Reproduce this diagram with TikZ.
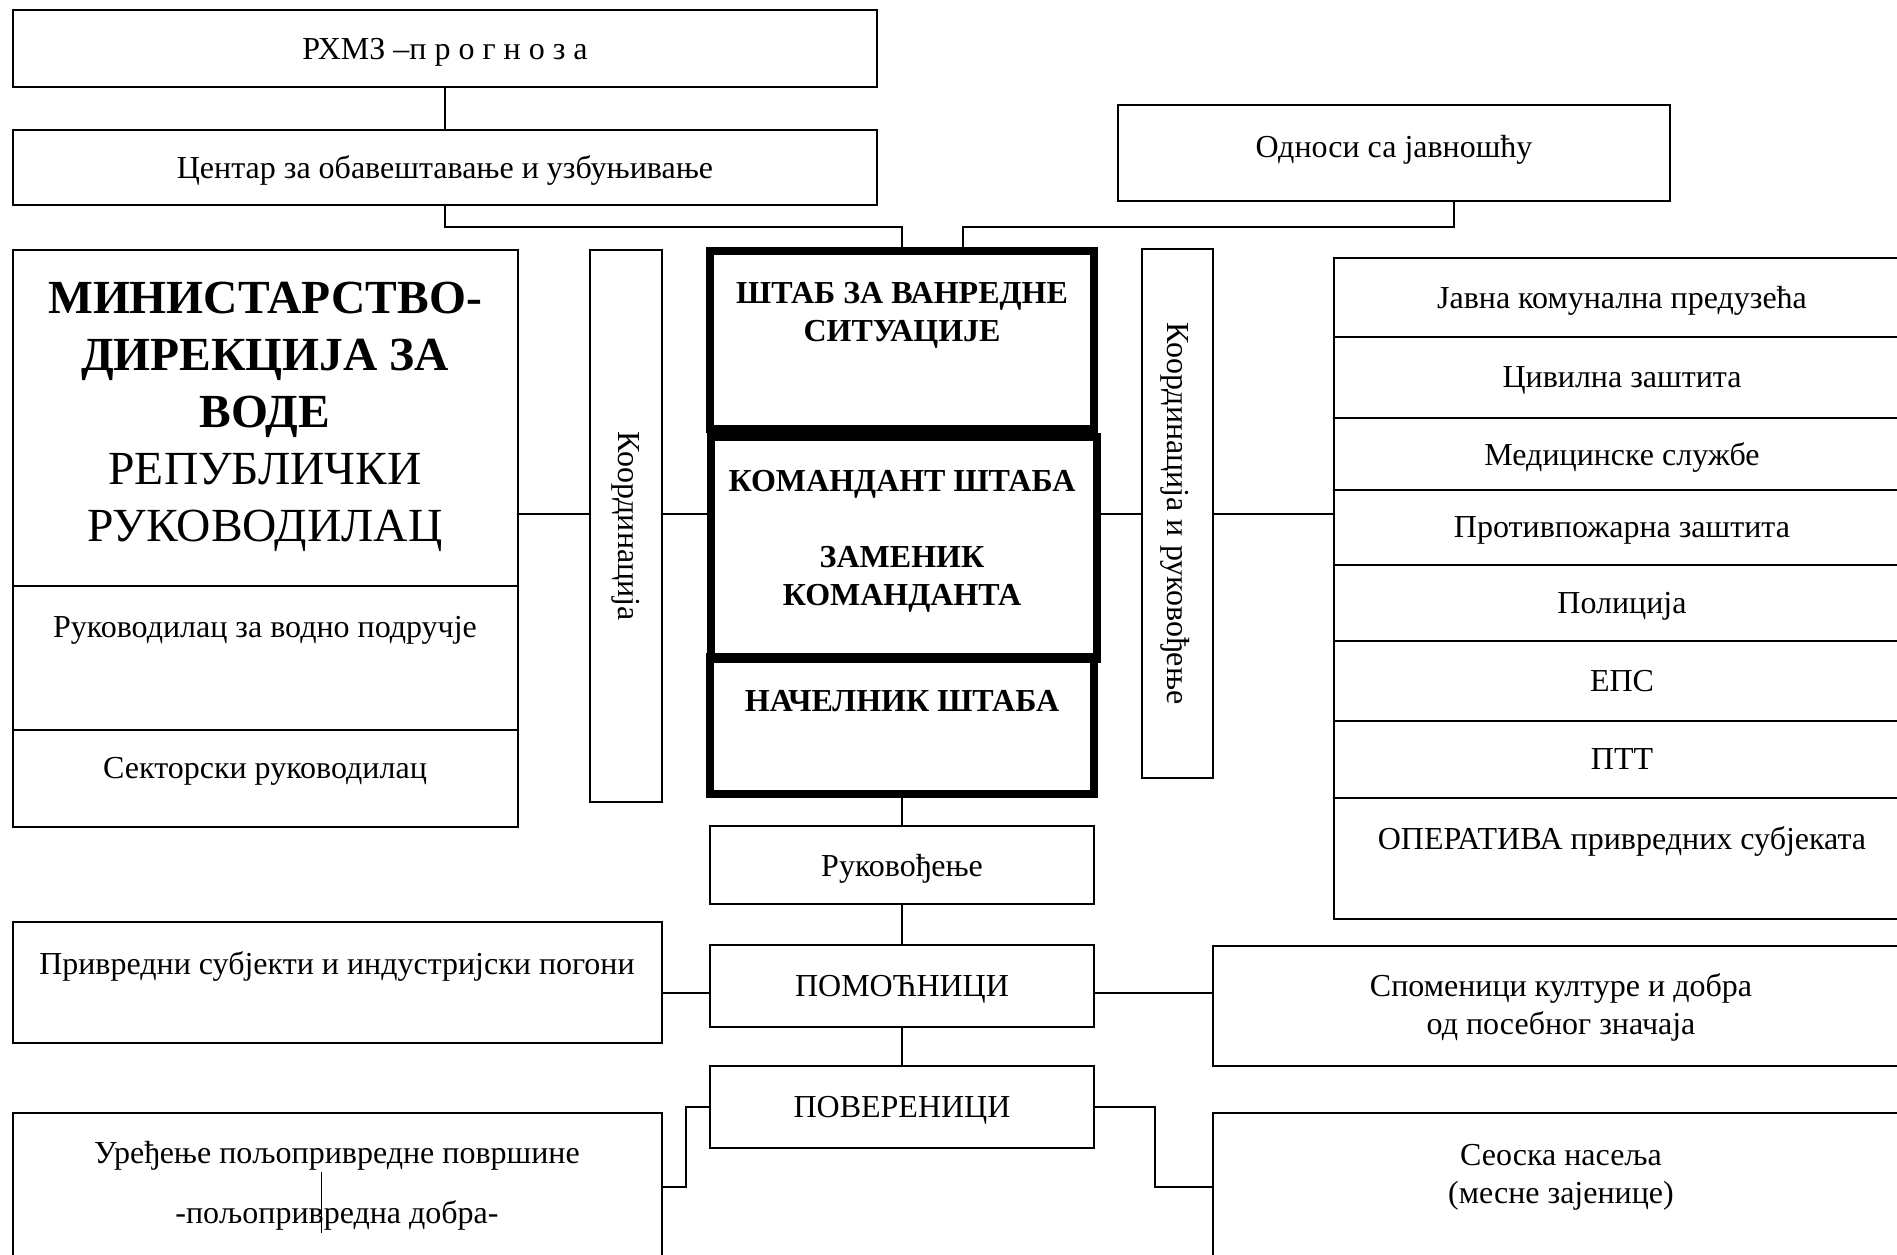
\documentclass[tikz,border=0pt]{standalone}
\usepackage{fontspec}
\setmainfont{Liberation Serif}

\begin{document}
\begin{tikzpicture}[x=0.4pt, y=-0.4pt,
  box/.style={draw, line width=0.7pt, rectangle, anchor=north west, inner sep=0pt, outer sep=0pt,
    align=center, text depth=0pt, font=\fontsize{12.8}{15.2}\selectfont},
  heavy/.style={box, line width=3pt, font=\fontsize{12.8}{15.2}\selectfont\bfseries},
  wh/.style 2 args={minimum width=#1*0.4pt, minimum height=#2*0.4pt},
  lbl/.style={inner sep=0pt, align=center, font=\fontsize{12.8}{15.2}\selectfont},
  wire/.style={line width=0.7pt}]

\useasboundingbox (0,0) rectangle (1897,1254);

% TOP
\node[box, wh={864}{77}] (rhmz) at (13,10) {РХМЗ –п р о г н о з а};
\node[box, wh={864}{75}] (centar) at (13,130) {Центар за обавештавање и узбуњивање};
\node[box, wh={552}{96}] (odnosi) at (1118,105) {};
\node[lbl] (odnosi-t) at (1394,150) {Односи са јавношћу};

% MINISTRY
\node[box, wh={505}{336}] (minT) at (13,250) {};
\node[lbl, font=\fontsize{19}{22.8}\selectfont] (minT-t) at (265,417)
  {\textbf{МИНИСТАРСТВО-}\\\textbf{ДИРЕКЦИЈА ЗА}\\\textbf{ВОДЕ}\\РЕПУБЛИЧКИ\\РУКОВОДИЛАЦ};
\node[box, wh={505}{144}] (minV) at (13,586) {};
\node[lbl] (minV-t) at (265,630) {Руководилац за водно подручје};
\node[box, wh={505}{97}] (minS) at (13,730) {};
\node[lbl] (minS-t) at (265,771) {Секторски руководилац};

% COORDINATION
\node[box, wh={72}{552}] (koord) at (590,250) {};
\node[lbl, rotate=-90] (koord-t) at (koord.center) {Координација};
\node[box, wh={71}{529}] (kir) at (1142,249) {};
\node[lbl, rotate=-90] (kir-t) at ([xshift=-1pt]kir.center) {Координација и руковођење};

% HEADQUARTERS
\node[heavy, wh={384}{178}] (shtab) at (710,251) {};
\node[lbl, font=\fontsize{12.8}{15.2}\selectfont\bfseries] (shtab-t) at (902,315) {ШТАБ ЗА ВАНРЕДНЕ\\СИТУАЦИЈЕ};
\node[heavy, wh={386}{222}] (komandant) at (711,437) {};
\node[lbl, font=\fontsize{12.8}{15.2}\selectfont\bfseries] (komandant-t) at (902,541)
  {КОМАНДАНТ ШТАБА\\[15.2pt]ЗАМЕНИК\\КОМАНДАНТА};
\node[heavy, wh={384}{137}] (nacelnik) at (710,657) {};
\node[lbl, font=\fontsize{12.8}{15.2}\selectfont\bfseries] (nacelnik-t) at (902,701) {НАЧЕЛНИК ШТАБА};

% SERVICES
\node[box, wh={576}{79}] (r1) at (1334,258) {Јавна комунална предузећа};
\node[box, wh={576}{81}] (r2) at (1334,337) {Цивилна заштита};
\node[box, wh={576}{72}] (r3) at (1334,418) {Медицинске службе};
\node[box, wh={576}{75}] (r4) at (1334,490) {Противпожарна заштита};
\node[box, wh={576}{76}] (r5) at (1334,565) {Полиција};
\node[box, wh={576}{80}] (r6) at (1334,641) {ЕПС};
\node[box, wh={576}{77}] (r7) at (1334,721) {ПТТ};
\node[box, wh={576}{121}] (r8) at (1334,798) {};
\node[lbl] (r8-t) at (1622,841) {ОПЕРАТИВА привредних субјеката};

% COMMAND LINE
\node[box, wh={384}{78}] (ruk) at (710,826) {Руковођење};
\node[box, wh={384}{82}] (pom) at (710,945) {ПОМОЋНИЦИ};
\node[box, wh={384}{82}] (pov) at (710,1066) {ПОВЕРЕНИЦИ};

% BOTTOM
\node[box, wh={649}{121}] (priv) at (13,922) {};
\node[lbl] (priv-t) at (337,966) {Привредни субјекти и индустријски погони};
\node[box, wh={697}{120}] (spom) at (1213,946) {};
\node[lbl] (spom-t) at (1561,1007) {Споменици културе и добра\\од посебног значаја};
\node[box, wh={649}{160}] (ured) at (13,1113) {};
\node[lbl] (ured-t) at (337,1186) {Уређење пољопривредне површине\\[8.8pt]-пољопривредна добра-};
\node[box, wh={697}{160}] (seoska) at (1213,1113) {};
\node[lbl] (seoska-t) at (1561,1177) {Сеоска насеља\\(месне зајенице)};

% LINKS
\coordinate (jl) at (902,227);
\coordinate (odn-in) at (1454,227);
\coordinate (sht-in) at (963,227);
\coordinate (hline) at (0,514);
\coordinate (pline) at (0,993);
\coordinate (pvl) at (686,1187);
\coordinate (pvr) at (1155,1187);

\draw[wire] (rhmz.south) -- (centar.north);
\draw[wire] (centar.south) |- (jl) -- (shtab.north);
\draw[wire] (odn-in |- odnosi.south) -- (odn-in) -- (sht-in) -- (sht-in |- shtab.north);
\draw[wire] (minT.east |- hline) -- (koord.west |- hline);
\draw[wire] (koord.east |- hline) -- (komandant.west |- hline);
\draw[wire] (komandant.east |- hline) -- (kir.west |- hline);
\draw[wire] (kir.east |- hline) -- (r4.west |- hline);
\draw[wire] (nacelnik.south) -- (ruk.north);
\draw[wire] (ruk.south) -- (pom.north);
\draw[wire] (pom.south) -- (pov.north);
\draw[wire] (pom.west |- pline) -- (priv.east |- pline);
\draw[wire] (pom.east |- pline) -- (spom.west |- pline);
\draw[wire] (pov.west) -| (pvl) -- (ured.east |- pvl);
\draw[wire] (pov.east) -| (pvr) -- (seoska.west |- pvr);
\draw[line width=0.4pt] (321,1172) -- (321,1233);

\end{tikzpicture}
\end{document}
